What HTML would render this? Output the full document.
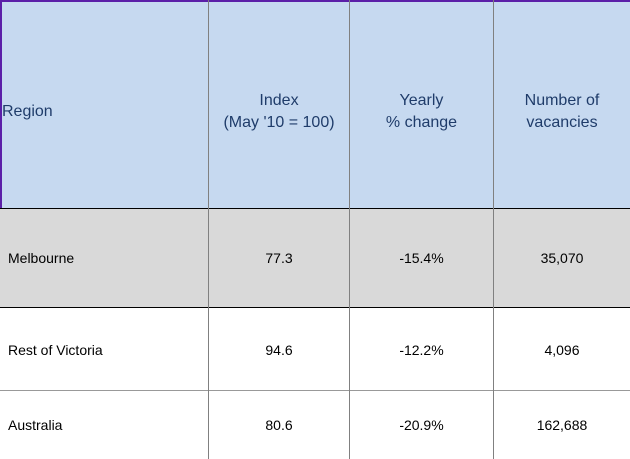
<!DOCTYPE html>
<html><head><meta charset="utf-8"><style>
body{margin:0;width:630px;height:459px;overflow:hidden;background:#fff;font-family:"Liberation Sans",Calibri,sans-serif;position:relative}
div{position:absolute;box-sizing:border-box}
.h{color:#1f3c6a;font-size:16px;line-height:22px;text-align:center}
.c{font-size:14px;color:#000;text-align:center}
</style></head><body>
<div style="left:0;top:0;width:630px;height:208px;background:#c6d9f0"></div>
<div style="left:0;top:209px;width:630px;height:98px;background:#d9d9d9"></div>
<div style="left:0;top:0;width:630px;height:2px;background:#5b1fa8"></div>
<div style="left:0;top:0;width:2px;height:208px;background:#5b1fa8"></div>
<div style="left:0;top:208px;width:630px;height:1px;background:#000"></div>
<div style="left:0;top:307px;width:630px;height:1px;background:#000"></div>
<div style="left:0;top:390px;width:630px;height:1px;background:#999"></div>
<div style="left:208px;top:0;width:1px;height:459px;background:#808080"></div>
<div style="left:349px;top:0;width:1px;height:459px;background:#808080"></div>
<div style="left:493px;top:0;width:1px;height:459px;background:#808080"></div>

<div class="h" style="left:2px;top:101px;text-align:left">Region</div>
<div class="h" style="left:209px;top:90px;width:140px">Index<br>(May '10 = 100)</div>
<div class="h" style="left:350px;top:90px;width:143px">Yearly<br>% change</div>
<div class="h" style="left:494px;top:90px;width:136px">Number of<br>vacancies</div>

<div class="c" style="left:8px;top:250px;text-align:left">Melbourne</div>
<div class="c" style="left:209px;top:250px;width:140px">77.3</div>
<div class="c" style="left:350px;top:250px;width:143px">-15.4%</div>
<div class="c" style="left:494px;top:250px;width:136px">35,070</div>

<div class="c" style="left:8px;top:342px;text-align:left">Rest of Victoria</div>
<div class="c" style="left:209px;top:342px;width:140px">94.6</div>
<div class="c" style="left:350px;top:342px;width:143px">-12.2%</div>
<div class="c" style="left:494px;top:342px;width:136px">4,096</div>

<div class="c" style="left:8px;top:417px;text-align:left">Australia</div>
<div class="c" style="left:209px;top:417px;width:140px">80.6</div>
<div class="c" style="left:350px;top:417px;width:143px">-20.9%</div>
<div class="c" style="left:494px;top:417px;width:136px">162,688</div>
</body></html>
